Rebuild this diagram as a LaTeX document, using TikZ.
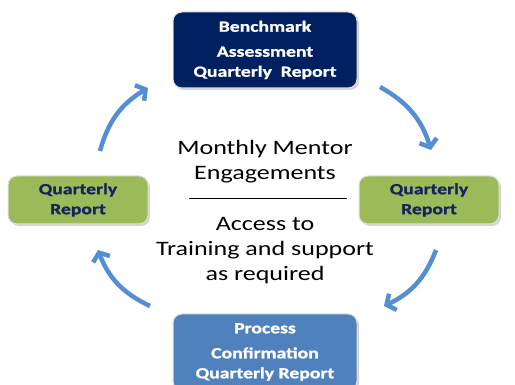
\documentclass[tikz,border=0pt]{standalone}
\usepackage{fontspec}
\setmainfont{Carlito}
\newfontfamily\widefont[FakeStretch=1.27]{Carlito}
\newfontfamily\boxfont[FakeStretch=1.27, FakeBold=1.2]{Carlito Bold}
\usetikzlibrary{arrows.meta,shadows}
\definecolor{navyfill}{RGB}{0,32,96}
\definecolor{bluefill}{RGB}{79,129,189}
\definecolor{greenfill}{RGB}{155,187,89}
\definecolor{navytext}{RGB}{23,35,94}
\definecolor{arrowblue}{RGB}{85,142,213}
\tikzset{
  reportbox/.style={draw=white!88!black, line width=1pt, rounded corners=9pt,
    align=center, inner sep=0pt,
    font=\boxfont\fontsize{15.5}{20}\selectfont,
    drop shadow={opacity=0.35, shadow xshift=2pt, shadow yshift=-2pt}},
  cyclearrow/.style={line width=4.5pt, color=arrowblue,
    -{Straight Barb[length=7pt, width=18pt]}},
  centertext/.style={align=center, font=\widefont\fontsize{20.5}{25}\selectfont}
}
\begin{document}
\begin{tikzpicture}[x=1pt, y=-1pt]
\useasboundingbox (0,0) rectangle (515,385);
% the four report boxes
\node[reportbox, fill=navyfill, text=white, minimum width=184pt, minimum height=76pt]
  (bench) at (265,50) {Benchmark\\[5pt] Assessment\\ Quarterly\ \ Report};
\node[reportbox, fill=greenfill, text=navytext, minimum width=140pt, minimum height=48pt]
  (qright) at (429,200) {Quarterly\\ Report};
\node[reportbox, fill=bluefill, text=white, minimum width=184pt, minimum height=76pt]
  (process) at (265,352) {Process\\[5pt] Confirmation\\ Quarterly Report};
\node[reportbox, fill=greenfill, text=navytext, minimum width=140pt, minimum height=48pt]
  (qleft) at (78,200) {Quarterly\\ Report};
% centre text
\node[centertext] (mentor) at (265,162) {Monthly Mentor\\ Engagements};
\node[centertext] (access) at (265,251) {Access to\\ Training and support\\ as required};
\coordinate (ruleL) at (189,198);
\coordinate (ruleR) at (347,198);
\draw[line width=0.8pt] (ruleL) -- (ruleR);
% arrow ends, edit here
\coordinate (a1) at (100,151); \coordinate (b1) at (148,88);
\coordinate (a2) at (380,87);  \coordinate (b2) at (431,150);
\coordinate (a3) at (436,250); \coordinate (b3) at (384,306);
\coordinate (a4) at (150,306); \coordinate (b4) at (98,250);
\foreach \a/\b in {a1/b1, a2/b2, a3/b3, a4/b4}
\draw[cyclearrow] (\a) to[bend left=22] (\b);
\end{tikzpicture}
\end{document}
